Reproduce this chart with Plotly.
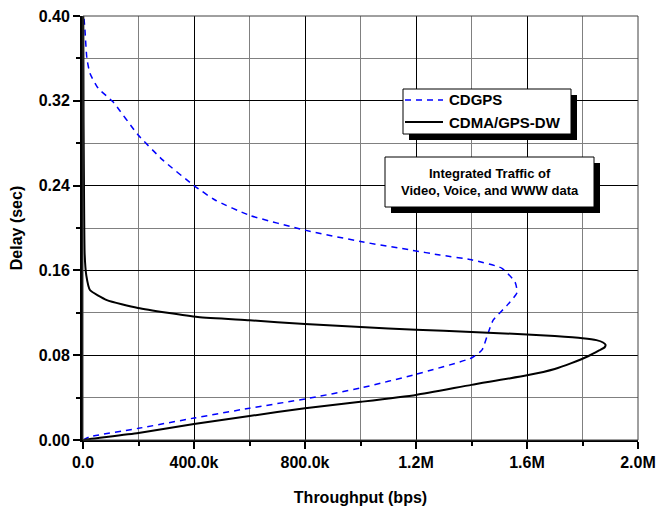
import plotly.graph_objects as go

# ---- data (throughput in bps, delay in sec) ----
dw_throughput = [0, 25e3, 200e3, 400e3, 600e3, 800e3, 1.0e6, 1.2e6, 1.4e6, 1.6e6, 1.7e6,
                 1.76e6, 1.82e6, 1.86e6, 1.88e6, 1.883e6, 1.874e6, 1.85e6, 1.8e6, 1.7e6,
                 1.6e6, 1.4e6, 1.2e6, 1.0e6, 0.8e6, 0.6e6,
                 0.414e6, 0.198e6, 0.086e6, 0.025e6, 0.012e6, 0.006e6, 0.004e6, 0.002e6, 0.001e6]
dw_delay = [0, 0.001, 0.0066, 0.015, 0.0226, 0.030, 0.036, 0.0425, 0.052, 0.061, 0.067,
            0.0725, 0.079, 0.0845, 0.0875, 0.0898, 0.092, 0.0942, 0.096, 0.098,
            0.0995, 0.102, 0.104, 0.1066, 0.1094, 0.113,
            0.116, 0.1245, 0.132, 0.1415, 0.155, 0.175, 0.22, 0.30, 0.40]

cd_throughput = [0, 25e3, 200e3, 400e3, 600e3, 800e3, 1.0e6, 1.2e6, 1.4e6, 1.438e6, 1.46e6,
                 1.478e6, 1.528e6, 1.564e6, 1.557e6, 1.51e6, 1.4e6, 1.286e6, 1.186e6, 1.005e6,
                 0.8e6, 0.6e6, 0.476e6, 0.4e6, 0.288e6, 0.198e6, 0.108e6, 0.054e6, 0.025e6,
                 0.014e6, 0.007e6, 0.003e6]
cd_delay = [0, 0.003, 0.011, 0.0207, 0.030, 0.0387, 0.049, 0.062, 0.0774, 0.085, 0.101,
            0.113, 0.127, 0.139, 0.149, 0.162, 0.170, 0.1745, 0.179, 0.187,
            0.198, 0.212, 0.2264, 0.24, 0.264, 0.288, 0.319, 0.332, 0.346,
            0.36, 0.387, 0.40]

x_tickvals = [0, 400e3, 800e3, 1.2e6, 1.6e6, 2.0e6]
x_ticktext = ["0.0", "400.0k", "800.0k", "1.2M", "1.6M", "2.0M"]
y_tickvals = [0.0, 0.08, 0.16, 0.24, 0.32, 0.40]
y_ticktext = ["0.00", "0.08", "0.16", "0.24", "0.32", "0.40"]

series_names = ["CDGPS", "CDMA/GPS-DW"]
series_colors = ["#0000ff", "black"]
series_dash = ["6px,5px", "solid"]
series_width = [1.5, 2]
note_text = "Integrated Traffic of<br>Video, Voice, and WWW data"

FONT = "Liberation Sans, Arial, sans-serif"

# plot area in pixels
W, H = 660, 507
L, R, T, B = 83, 22, 16, 67
PW, PH = W - L - R, H - T - B

def px2paper(px, py):
    return (px - L) / PW, (H - B - py) / PH

fig = go.Figure()
fig.add_trace(go.Scatter(x=cd_throughput, y=cd_delay, mode="lines", name=series_names[0],
                         line=dict(color=series_colors[0], width=series_width[0],
                                   dash=series_dash[0], shape="spline", smoothing=0.5)))
fig.add_trace(go.Scatter(x=dw_throughput, y=dw_delay, mode="lines", name=series_names[1],
                         line=dict(color=series_colors[1], width=series_width[1],
                                   shape="spline", smoothing=0.5)))

shapes = []
annotations = []
# frame (top / right)
shapes.append(dict(type="rect", xref="paper", yref="paper", x0=0, y0=0, x1=1, y1=1,
                   line=dict(color="#404040", width=1), layer="above"))

def box_with_shadow(x0p, y0p, x1p, y1p, off=6):
    a0, b0 = px2paper(x0p + off, y0p + off)
    a1, b1 = px2paper(x1p + off, y1p + off)
    shapes.append(dict(type="rect", xref="paper", yref="paper", x0=a0, y0=b1, x1=a1, y1=b0,
                       fillcolor="black", line=dict(width=0), layer="above"))
    a0, b0 = px2paper(x0p, y0p)
    a1, b1 = px2paper(x1p, y1p)
    shapes.append(dict(type="rect", xref="paper", yref="paper", x0=a0, y0=b1, x1=a1, y1=b0,
                       fillcolor="white", line=dict(color="black", width=1), layer="above"))

# legend box
box_with_shadow(403, 89, 571, 134)
for i, (name, yy) in enumerate(zip(series_names, [100, 122])):
    a0, b = px2paper(405, yy)
    a1, _ = px2paper(443, yy)
    shapes.append(dict(type="line", xref="paper", yref="paper", x0=a0, x1=a1, y0=b, y1=b,
                       line=dict(color=series_colors[i], width=series_width[i],
                                 dash=series_dash[i]), layer="above"))
    tx, ty = px2paper(447, yy)
    annotations.append(dict(xref="paper", yref="paper", x=tx, y=ty, xanchor="left",
                            yanchor="middle", text=name, showarrow=False,
                            font=dict(family=FONT, size=15, color="black", weight="bold")))

# note box
box_with_shadow(385, 157, 594, 207)
ax, ay = px2paper((385 + 594) / 2, (157 + 207) / 2)
annotations.append(dict(xref="paper", yref="paper", x=ax, y=ay, xanchor="center",
                        yanchor="middle", text=note_text, showarrow=False, align="center",
                        font=dict(family=FONT, size=13, color="black", weight="bold")))

fig.update_layout(
    width=W, height=H,
    margin=dict(l=L, r=R, t=T, b=B, autoexpand=False),
    paper_bgcolor="white", plot_bgcolor="white",
    font=dict(family=FONT, color="black"),
    showlegend=False,
    shapes=shapes,
    annotations=annotations,
    xaxis=dict(range=[0, 2.0e6], tickvals=x_tickvals, ticktext=x_ticktext, automargin=False,
               showgrid=True, gridcolor="black", gridwidth=1,
               showline=True, linecolor="black", linewidth=2,
               ticks="outside", ticklen=7, tickwidth=1.5, tickcolor="black",
               tickfont=dict(family=FONT, size=16, color="black", weight="bold"),
               minor=dict(dtick=200e3, showgrid=True, gridcolor="#808080", gridwidth=1,
                          ticks="outside", ticklen=4, tickcolor="black", tickwidth=1.5),
               zeroline=False,
               title=dict(text="Throughput (bps)", standoff=22,
                          font=dict(family=FONT, size=16, color="black", weight="bold"))),
    yaxis=dict(range=[0, 0.40], tickvals=y_tickvals, ticktext=y_ticktext, automargin=False,
               showgrid=True, gridcolor="black", gridwidth=1,
               showline=True, linecolor="black", linewidth=3,
               ticks="outside", ticklen=7, tickwidth=1.5, tickcolor="black",
               tickfont=dict(family=FONT, size=16, color="black", weight="bold"),
               minor=dict(dtick=0.04, showgrid=True, gridcolor="#808080", gridwidth=1,
                          ticks="outside", ticklen=4, tickcolor="black", tickwidth=1.5),
               zeroline=False,
               title=dict(text="Delay (sec)", standoff=13,
                          font=dict(family=FONT, size=16, color="black", weight="bold"))),
)

fig.write_html("out.html", config={"displayModeBar": False},
               post_script="document.body.style.margin='0';")
